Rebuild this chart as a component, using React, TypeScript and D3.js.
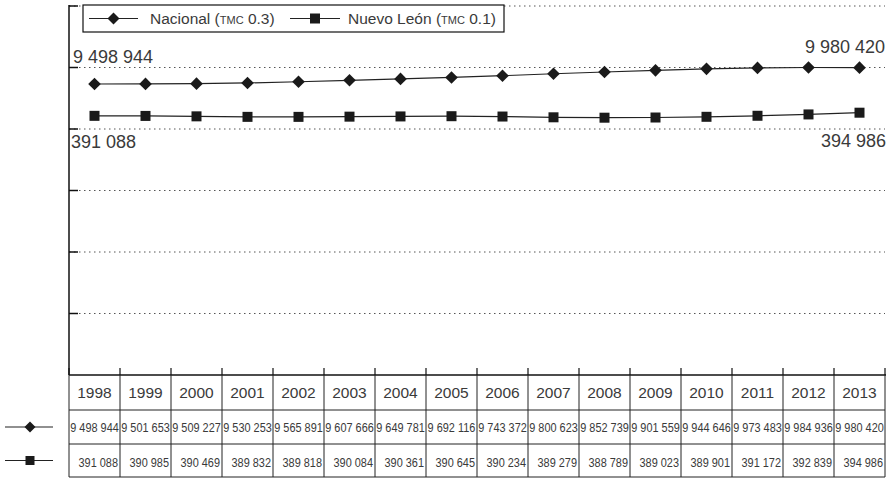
import React from "react";
import * as d3 from "d3";

const years = [1998, 1999, 2000, 2001, 2002, 2003, 2004, 2005, 2006, 2007, 2008, 2009, 2010, 2011, 2012, 2013];
const nacional = [9498944, 9501653, 9509227, 9530253, 9565891, 9607666, 9649781, 9692116, 9743372, 9800623, 9852739, 9901559, 9944646, 9973483, 9984936, 9980420];
const nuevoLeon = [391088, 390985, 390469, 389832, 389818, 390084, 390361, 390645, 390234, 389279, 388789, 389023, 389901, 391172, 392839, 394986];
const seriesNames = ["Nacional", "Nuevo León"];
const seriesTmc = ["0.3", "0.1"];
const gridTicks = [0, 1, 2, 3, 4, 5, 6];

const W = 890;
const H = 478;
const left = 69;
const right = 885;
const top = 6;
const bottom = 375;
const rowH = [35, 34, 33];
const FONT = "'Liberation Sans', Arial, sans-serif";
const TXT = "#3a3a3a";

const fmt = d3.formatLocale({ decimal: ".", thousands: " ", grouping: [3], currency: ["", ""] }).format(",d");

function Diamond({ x, y, r }: { x: number; y: number; r: number }) {
  return <path d={`M${x},${y - r}L${x + r},${y}L${x},${y + r}L${x - r},${y}Z`} fill="#1a1a1a" />;
}
function Square({ x, y, s }: { x: number; y: number; s: number }) {
  return <rect x={x - s / 2} y={y - s / 2} width={s} height={s} fill="#1a1a1a" />;
}

export default function App() {
  const x = d3.scaleBand<number>().domain(years).range([left, right]).padding(0);
  const cx = (yr: number) => (x(yr) as number) + x.bandwidth() / 2;
  const grid = d3.scaleLinear().domain([0, 6]).range([bottom, top]);

  const nacExt = d3.extent(nacional) as [number, number];
  const nlExt = d3.extent(nuevoLeon) as [number, number];
  const yNac = d3.scaleLinear().domain(nacExt).range([84, 67.5]);
  const yNL = d3.scaleLinear().domain(nlExt).range([117.7, 112.7]);

  const lineNac = d3.line<number>().x((_, i) => cx(years[i])).y((d) => yNac(d));
  const lineNL = d3.line<number>().x((_, i) => cx(years[i])).y((d) => yNL(d));

  const r1 = bottom + rowH[0];
  const r2 = r1 + rowH[1];
  const r3 = r2 + rowH[2];
  const bounds = [left, ...years.map((yr) => (x(yr) as number) + x.bandwidth())];

  return (
    <svg width={W} height={H} style={{ position: "absolute", left: 0, top: 0, background: "#fff" }}>
      {/* gridlines */}
      {gridTicks.slice(1).map((t) => (
        <g key={t}>
          <line x1={left} x2={right} y1={grid(t)} y2={grid(t)} stroke="#555" strokeWidth={1} strokeDasharray="1.5 3.5" />
          <line x1={left} x2={left + 9} y1={grid(t)} y2={grid(t)} stroke="#111" strokeWidth={1.5} />
        </g>
      ))}
      {/* axes */}
      <line x1={left} x2={left} y1={top - 1} y2={bottom} stroke="#111" strokeWidth={1.5} />
      <line x1={left} x2={right + 1} y1={bottom} y2={bottom} stroke="#111" strokeWidth={1.5} />
      {bounds.map((b, i) => (
        <line key={i} x1={b} x2={b} y1={bottom - 7} y2={bottom} stroke="#111" strokeWidth={1.2} />
      ))}

      {/* series */}
      <path d={lineNac(nacional) || ""} fill="none" stroke="#222" strokeWidth={1.2} />
      <path d={lineNL(nuevoLeon) || ""} fill="none" stroke="#222" strokeWidth={1.2} />
      {nacional.map((v, i) => (
        <Diamond key={i} x={cx(years[i])} y={yNac(v)} r={6.3} />
      ))}
      {nuevoLeon.map((v, i) => (
        <Square key={i} x={cx(years[i])} y={yNL(v)} s={10} />
      ))}

      {/* end labels */}
      <g fontFamily={FONT} fontSize={18} fill={TXT}>
        <text x={left + 4} y={yNac(nacional[0]) - 21}>{fmt(nacional[0])}</text>
        <text x={right} y={yNac(nacional[nacional.length - 1]) - 14.5} textAnchor="end">
          {fmt(nacional[nacional.length - 1])}
        </text>
        <text x={left + 2} y={grid(4) + 19}>{fmt(nuevoLeon[0])}</text>
        <text x={right + 1} y={grid(4) + 18} textAnchor="end">{fmt(nuevoLeon[nuevoLeon.length - 1])}</text>
      </g>

      {/* legend */}
      <g>
        <rect x={83} y={5} width={421} height={27} fill="#fff" stroke="#111" strokeWidth={1.2} />
        <line x1={89} x2={138} y1={18.5} y2={18.5} stroke="#222" strokeWidth={1.2} />
        <Diamond x={113.5} y={18.5} r={6} />
        <text x={150} y={24} fontFamily={FONT} fontSize={15.5} fill={TXT}>
          {seriesNames[0]} (<tspan fontSize={11}>TMC</tspan> {seriesTmc[0]})
        </text>
        <line x1={290} x2={340} y1={18.5} y2={18.5} stroke="#222" strokeWidth={1.2} />
        <Square x={315} y={18.5} s={10} />
        <text x={348} y={24} fontFamily={FONT} fontSize={15.5} fill={TXT}>
          {seriesNames[1]} (<tspan fontSize={11}>TMC</tspan> {seriesTmc[1]})
        </text>
      </g>

      {/* table */}
      <g stroke="#222" strokeWidth={1}>
        {bounds.map((b, i) => (
          <line key={i} x1={b} x2={b} y1={bottom} y2={r3} />
        ))}
        <line x1={left} x2={right} y1={r1} y2={r1} />
        <line x1={left} x2={right} y1={r2} y2={r2} />
        <line x1={left} x2={right} y1={r3} y2={r3} />
      </g>
      <g fontFamily={FONT} fill={TXT}>
        {years.map((yr) => (
          <text key={yr} x={cx(yr)} y={bottom + 23} fontSize={15.5} textAnchor="middle">
            {yr}
          </text>
        ))}
        {nacional.map((v, i) => (
          <text
            key={i}
            transform={`translate(${cx(years[i])},${r1 + 22}) scale(0.84,1)`}
            fontSize={13}
            textAnchor="middle"
          >
            {fmt(v)}
          </text>
        ))}
        {nuevoLeon.map((v, i) => (
          <text
            key={i}
            transform={`translate(${(x(years[i]) as number) + x.bandwidth() - 2},${r2 + 22.5}) scale(0.84,1)`}
            fontSize={13}
            textAnchor="end"
          >
            {fmt(v)}
          </text>
        ))}
      </g>

      {/* row keys */}
      <line x1={5} x2={53} y1={(r1 + r2) / 2} y2={(r1 + r2) / 2} stroke="#222" strokeWidth={1.2} />
      <Diamond x={30} y={(r1 + r2) / 2} r={5.5} />
      <line x1={5} x2={53} y1={(r2 + r3) / 2} y2={(r2 + r3) / 2} stroke="#222" strokeWidth={1.2} />
      <Square x={30} y={(r2 + r3) / 2} s={9} />
    </svg>
  );
}
